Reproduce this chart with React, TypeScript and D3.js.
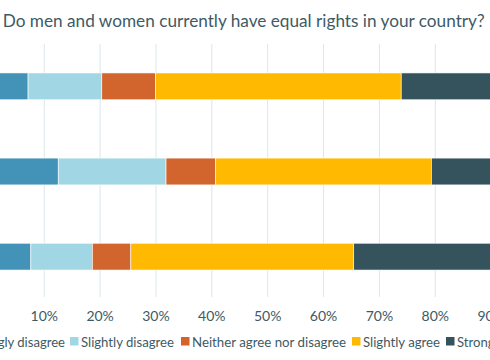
import React from "react";
import * as d3 from "d3";

const categories = ["Group A", "Group B", "Group C"];
const seriesNames = [
  "Strongly disagree",
  "Slightly disagree",
  "Neither agree nor disagree",
  "Slightly agree",
  "Strongly agree",
];
const stronglyDisagree = [7.1, 12.5, 7.6];
const slightlyDisagree = [13.2, 19.3, 11.0];
const neither = [9.6, 8.9, 6.9];
const slightlyAgree = [44.0, 38.6, 39.9];
const stronglyAgree = [26.1, 20.7, 34.6];
const tickValues = [0, 10, 20, 30, 40, 50, 60, 70, 80, 90, 100];
const tickLabels = ["10%", "20%", "30%", "40%", "50%", "60%", "70%", "80%", "90%"];
const colors = ["#4393B9", "#A1D7E4", "#D2652D", "#FFB900", "#34535C"];
const title = "Do men and women currently have equal rights in your country?";

const W = 490;
const H = 360;
const textColor = "#3E5A64";
const font = "Lato, 'Open Sans', sans-serif";

export default function App() {
  const seriesValues = [stronglyDisagree, slightlyDisagree, neither, slightlyAgree, stronglyAgree];
  const rows = categories.map((c, i) => {
    const r: any = { category: c };
    seriesNames.forEach((s, j) => (r[s] = seriesValues[j][i]));
    return r;
  });
  const stack = d3.stack<any>().keys(seriesNames);
  const stacked = stack(rows);

  const x = d3.scaleLinear().domain([0, 100]).range([-11.6, 547]);
  const y = d3.scaleBand().domain(categories).range([44, 299]).paddingInner(0.685).paddingOuter(0.34);

  // legend layout (calibri-like widths)
  const legendStarts = [-33, 81, 192, 363, 457];
  const legendWidths = [98, 93, 154, 77, 82];

  return (
    <svg width={W} height={H} style={{ position: "fixed", left: 0, top: 0, background: "#fff" }} fontFamily={font}>
      <text x={243.7} y={27} fontSize={17.2} fill={textColor} textAnchor="middle">
        {title}
      </text>
      {tickValues.map((t) => (
        <line key={t} x1={x(t)} x2={x(t)} y1={44} y2={297} stroke="#DCE6EC" strokeWidth={1} />
      ))}
      {stacked.map((s, j) => (
        <g key={s.key} fill={colors[j]}>
          {s.map((d, i) => (
            <rect
              key={i}
              x={x(d[0])}
              y={y(categories[i])}
              width={x(d[1]) - x(d[0])}
              height={y.bandwidth()}
              stroke="#ffffff"
              strokeWidth={0.6}
            />
          ))}
        </g>
      ))}
      {tickLabels.map((t, i) => (
        <text key={"t" + t} x={x(tickValues[i + 1])} y={321} textAnchor="middle" fontSize={14} fill={textColor}>
          {t}
        </text>
      ))}
      {seriesNames.map((s, j) => (
        <g key={"l" + s}>
          <rect x={legendStarts[j] - 11} y={337} width={8.5} height={8.5} fill={colors[j]} />
          <text
            x={legendStarts[j]}
            y={346.5}
            fontSize={14}
            fill={textColor}
            textLength={legendWidths[j]}
            lengthAdjust="spacingAndGlyphs"
          >
            {s}
          </text>
        </g>
      ))}
    </svg>
  );
}
